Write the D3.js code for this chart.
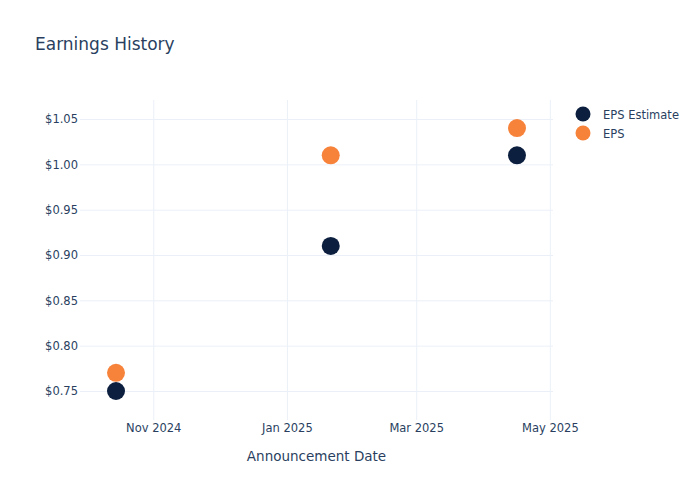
<!DOCTYPE html>
<html>
<head>
<meta charset="utf-8">
<script src="https://cdn.jsdelivr.net/npm/d3@7"></script>
<style>
  body { margin: 0; background: #fff; }
  text { font-family: "DejaVu Sans", sans-serif; fill: #2a3f5f; }
</style>
</head>
<body>
<div id="chart"></div>
<script>
// Data
const dates = ['2024-10-15', '2025-01-21', '2025-04-16'];
const epsEstimate = [0.75, 0.91, 1.01];
const eps = [0.77, 1.01, 1.04];
const seriesNames = ['EPS Estimate', 'EPS'];
const seriesColors = ['#0c1f3f', '#f7823a'];
const yTicks = [0.75, 0.80, 0.85, 0.90, 0.95, 1.00, 1.05];
const xTicks = ['2024-11-01', '2025-01-01', '2025-03-01', '2025-05-01'];

const width = 700, height = 500;
const margin = {top: 100, right: 147, bottom: 80, left: 80};
const plotW = width - margin.left - margin.right;
const plotH = height - margin.top - margin.bottom;

const parse = d3.timeParse('%Y-%m-%d');
const xDates = dates.map(parse);

// x domain padded so markers sit inside the plot like in the reference
const x0 = d3.min(xDates), x1 = d3.max(xDates);
const span = x1 - x0;
const pad = span * 0.0898;
const xScale = d3.scaleTime()
  .domain([new Date(+x0 - pad), new Date(+x1 + pad)])
  .range([0, plotW]);

const yScale = d3.scaleLinear()
  .domain([0.718, 1.071])
  .range([plotH, 0]);

const svg = d3.select('#chart').append('svg')
  .attr('width', width)
  .attr('height', height);

svg.append('text')
  .attr('x', 35)
  .attr('y', 50)
  .attr('font-size', 17)
  .text('Earnings History');

const g = svg.append('g')
  .attr('transform', `translate(${margin.left},${margin.top})`);

// gridlines
const xAxis = d3.axisBottom(xScale)
  .tickValues(xTicks.map(parse))
  .tickFormat(d3.timeFormat('%b %Y'))
  .tickSize(-plotH)
  .tickPadding(4);

const yAxis = d3.axisLeft(yScale)
  .tickValues(yTicks)
  .tickFormat(d => '$' + d.toFixed(2))
  .tickSize(-plotW)
  .tickPadding(2);

const xAxisG = g.append('g')
  .attr('transform', `translate(0,${plotH})`)
  .call(xAxis);
const yAxisG = g.append('g').call(yAxis);

[xAxisG, yAxisG].forEach(a => {
  a.select('.domain').remove();
  a.selectAll('line').attr('stroke', '#ebf0f8');
  a.selectAll('text').attr('font-size', 11.5).attr('fill', '#2a3f5f')
    .style('font-family', '"DejaVu Sans", sans-serif');
});

g.append('text')
  .attr('x', plotW / 2)
  .attr('y', plotH + 41)
  .attr('text-anchor', 'middle')
  .attr('font-size', 13.5)
  .text('Announcement Date');

// markers
const series = [epsEstimate, eps];
series.forEach((vals, i) => {
  g.selectAll('.pt' + i)
    .data(vals.map((v, j) => ({date: xDates[j], value: v})))
    .join('circle')
    .attr('class', 'pt' + i)
    .attr('cx', d => xScale(d.date))
    .attr('cy', d => yScale(d.value))
    .attr('r', 9)
    .attr('fill', seriesColors[i]);
});

// legend
const legend = svg.append('g')
  .attr('transform', 'translate(583,114)');
seriesNames.forEach((name, i) => {
  const row = legend.append('g').attr('transform', `translate(0,${i * 19})`);
  row.append('circle').attr('r', 7.5).attr('fill', seriesColors[i]);
  row.append('text')
    .attr('x', 20)
    .attr('y', 4.5)
    .attr('font-size', 11.5)
    .text(name);
});
</script>
</body>
</html>
